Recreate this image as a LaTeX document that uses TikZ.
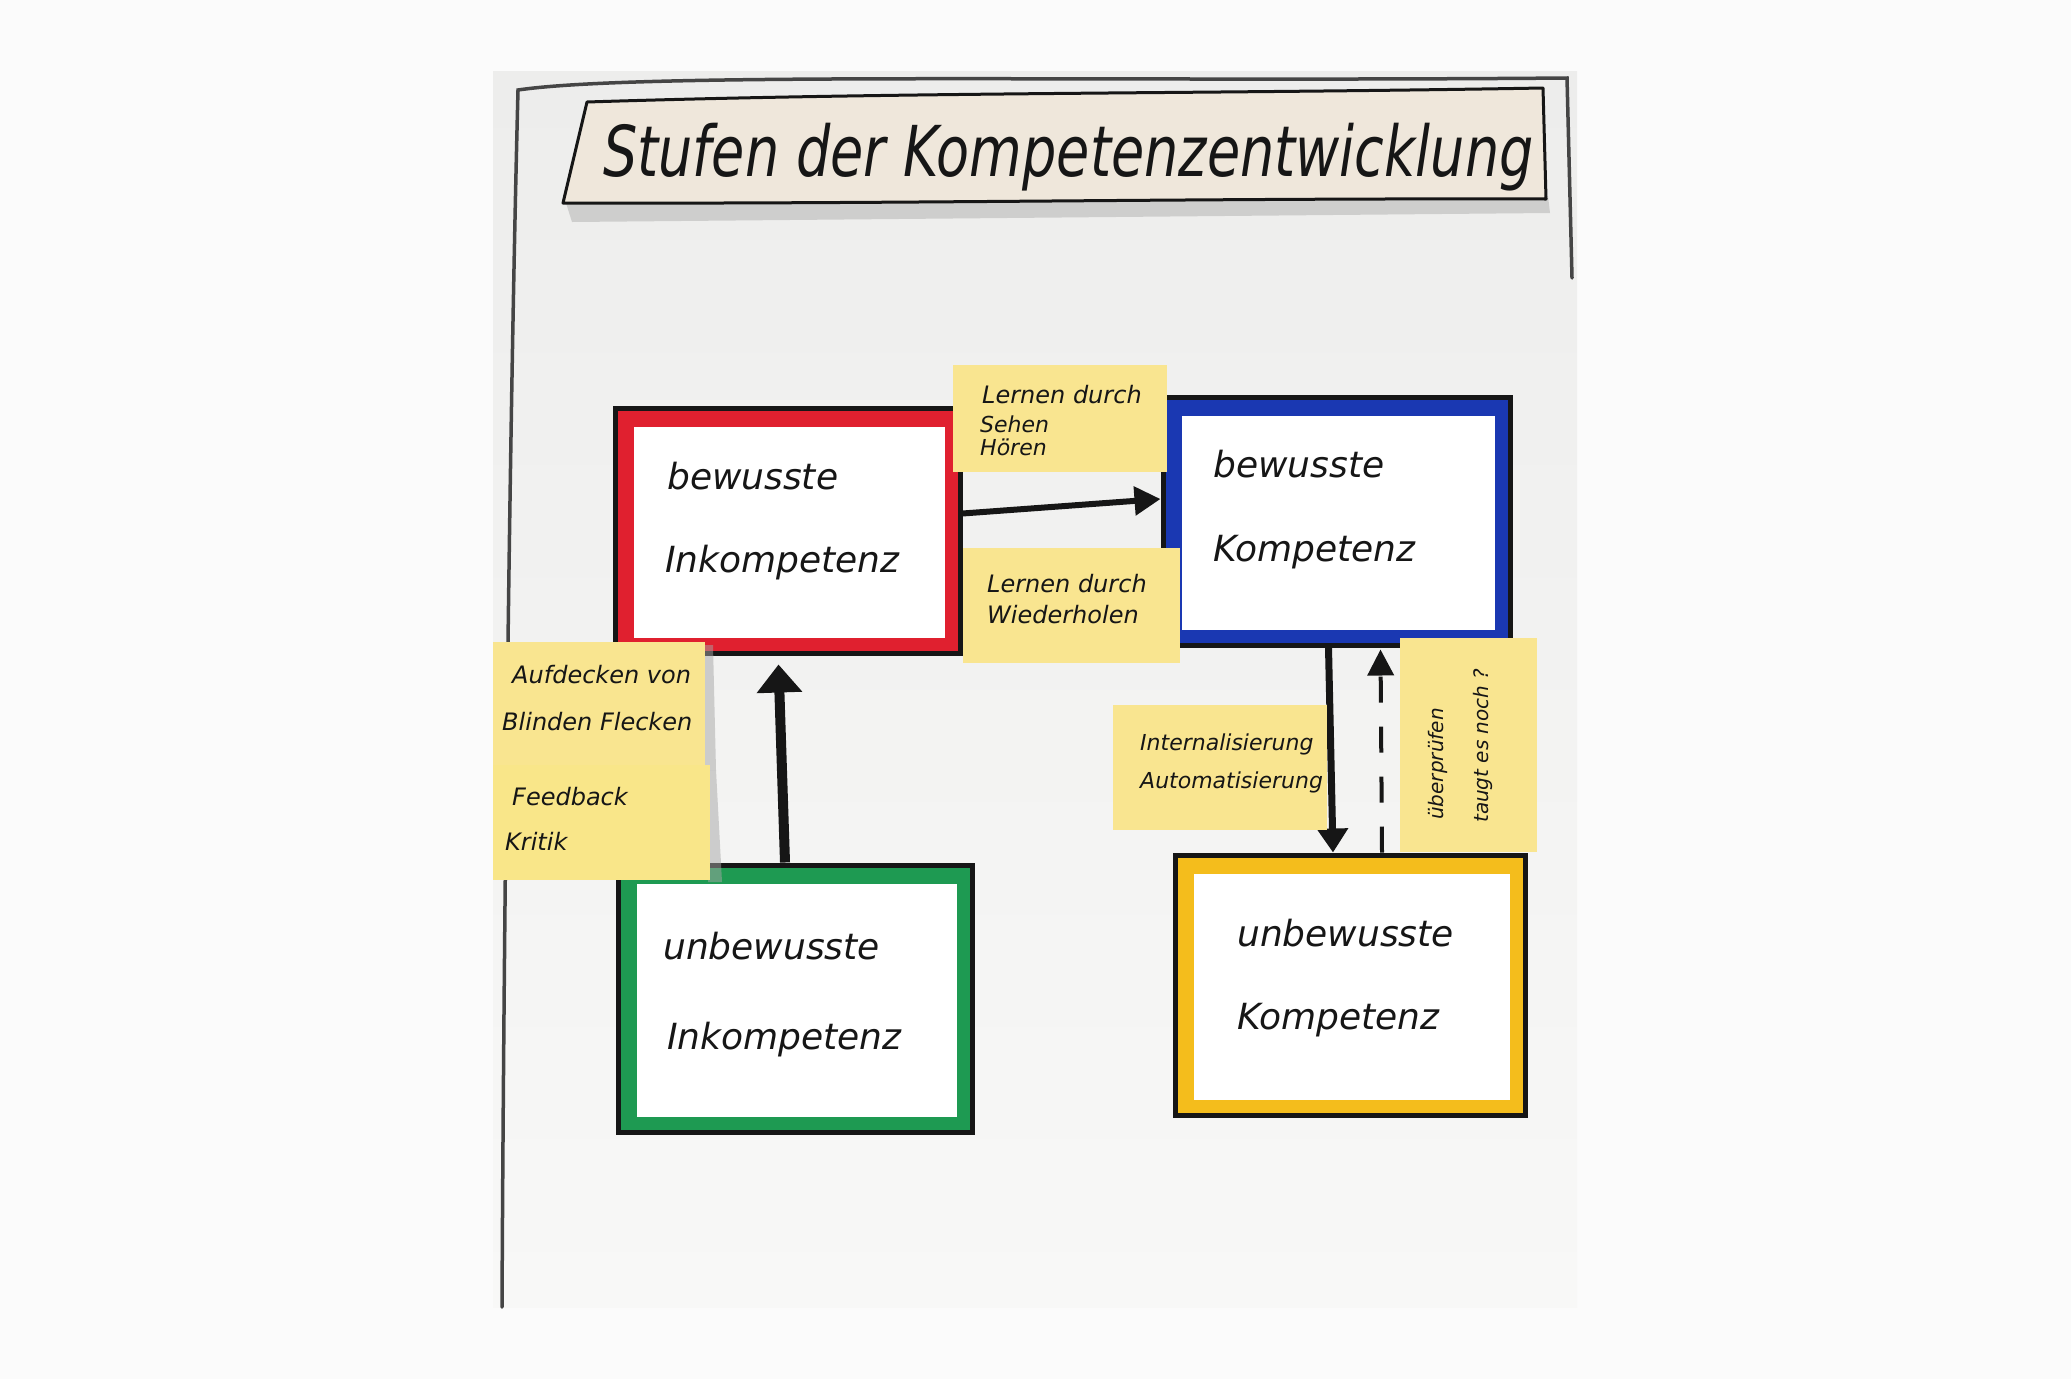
\documentclass[tikz,border=0pt]{standalone}
\usepackage{fontspec}
\setmainfont{DejaVu Sans}
\usetikzlibrary{arrows.meta}
\definecolor{bgwhite}{HTML}{FBFBFB}
\definecolor{papertop}{HTML}{EDEDEC}
\definecolor{paperbot}{HTML}{F8F8F7}
\definecolor{bannerfill}{HTML}{EFE7DB}
\definecolor{notefill}{HTML}{F9E590}
\definecolor{cred}{HTML}{E0202F}
\definecolor{cblue}{HTML}{1A38B2}
\definecolor{cgreen}{HTML}{1E9A52}
\definecolor{cyellow}{HTML}{F4BD1C}
\definecolor{ink}{HTML}{161616}
\begin{document}
\begin{tikzpicture}[x=1pt,y=-1pt,
  framebox/.style={draw=ink, line width=5pt, rectangle, inner sep=0pt, fill=#1},
  hand/.style={text=ink, anchor=base west, inner sep=0pt},
  boxtext/.style={hand, font=\itshape\fontsize{36}{40}\selectfont},
  notetext/.style={hand, font=\itshape\fontsize{24}{28}\selectfont},
  midtext/.style={hand, font=\itshape\fontsize{22}{26}\selectfont},
  smalltext/.style={hand, font=\itshape\fontsize{20}{24}\selectfont},
  sticky/.style={fill=notefill, rectangle, inner sep=0pt},
  arr/.style={draw=ink, line width=#1},
]
% page and paper
\fill[bgwhite] (0,0) rectangle (2071,1379);
\useasboundingbox (0,0) rectangle (2071,1379);
\shade[top color=papertop, bottom color=paperbot] (493,71) rectangle (1577,1307);
% hand drawn frame on paper
\draw[ink!80, line width=3.5pt, line cap=round]
  (1572,278) -- (1567,78) .. controls (1100,82) and (640,72) .. (518,90)
  .. controls (510,400) and (504,900) .. (502,1307);

% title banner
\fill[gray!55, opacity=0.6] (566,203) -- (1548,196) -- (1550,213) -- (572,222) -- cycle;
\filldraw[fill=bannerfill, draw=ink, line width=3pt, line join=round]
  (587,102) .. controls (900,92) and (1200,94) .. (1543,88)
  -- (1546,199) .. controls (1200,198) and (900,204) .. (563,203) -- cycle;
\node[hand, font=\itshape\fontsize{54}{60}\selectfont] (title) at (603,176)
  {\scalebox{1}[1.3]{Stufen der Kompetenzentwicklung}};

% four competence boxes
\node[framebox=cred, minimum width=345pt, minimum height=245pt] (red) at (787.5,530.5) {};
\node[framebox=cblue, minimum width=347pt, minimum height=248pt] (blue) at (1336.5,521) {};
\node[framebox=cgreen, minimum width=354pt, minimum height=267pt] (green) at (795,998.5) {};
\node[framebox=cyellow, minimum width=350pt, minimum height=260pt] (yellow) at (1350,985) {};
\foreach \b in {red,blue,green,yellow}{
  \fill[white] ([shift={(21pt,-21pt)}]\b.north west) rectangle ([shift={(-18pt,18pt)}]\b.south east);
}
\node[boxtext] (t1a) at (667,489) {bewusste};
\node[boxtext] (t1b) at (665,572) {Inkompetenz};
\node[boxtext] (t2a) at (1213,477) {bewusste};
\node[boxtext] (t2b) at (1213,561) {Kompetenz};
\node[boxtext] (t3a) at (663,959) {unbewusste};
\node[boxtext] (t3b) at (667,1049) {Inkompetenz};
\node[boxtext] (t4a) at (1237,946) {unbewusste};
\node[boxtext] (t4b) at (1237,1029) {Kompetenz};

% connectors
\draw[arr=6pt, -{Triangle[length=26pt,width=28pt]}]
  ([yshift=17pt]red.east) -- ([yshift=22pt]blue.west);
\draw[arr=10pt, -{Triangle[length=28pt,width=44pt]}]
  ([xshift=-10pt]green.north) -- ([xshift=-9pt,yshift=-9pt]red.south);
\draw[arr=7pt, -{Triangle[length=24pt,width=30pt]}]
  ([xshift=-8pt]blue.south) -- ([xshift=-17pt]yellow.north);
\draw[arr=4pt, dash pattern=on 26pt off 24pt, -{Triangle[length=26pt,width=26pt]}]
  ([xshift=32pt]yellow.north) -- ([xshift=44pt,yshift=-2pt]blue.south);

% sticky notes
\fill[gray!70, opacity=0.5] (703,645) -- (713,645) -- (716,770) -- (703,770) -- cycle;
\fill[gray!70, opacity=0.5] (708,770) -- (716,770) -- (722,882) -- (708,882) -- cycle;
\node[sticky, minimum width=214pt, minimum height=107pt] (n1) at (1060,418.5) {};
\node[sticky, minimum width=217pt, minimum height=115pt] (n2) at (1071.5,605.5) {};
\node[sticky, minimum width=212pt, minimum height=123pt] (n3) at (599,703.5) {};
\node[sticky, minimum width=217pt, minimum height=115pt, fill=notefill!95!yellow] (n4) at (601.5,822.5) {};
\node[sticky, minimum width=214pt, minimum height=125pt] (n5) at (1220,767.5) {};
\node[sticky, minimum width=137pt, minimum height=214pt] (n6) at (1468.5,745) {};

\node[notetext] (l1a) at (982,403) {Lernen durch};
\node[midtext] (l1b) at (980,432) {Sehen};
\node[midtext] (l1c) at (980,455) {Hören};
\node[notetext] (l2a) at (987,592) {Lernen durch};
\node[notetext] (l2b) at (987,623) {Wiederholen};
\node[notetext] (l3a) at (512,683) {Aufdecken von};
\node[notetext] (l3b) at (502,730) {Blinden Flecken};
\node[notetext] (l4a) at (512,805) {Feedback};
\node[notetext] (l4b) at (505,850) {Kritik};
\node[midtext] (l5a) at (1140,750) {Internalisierung};
\node[midtext] (l5b) at (1140,788) {Automatisierung};
\node[smalltext, rotate=90] (l6a) at (1443,820) {überprüfen};
\node[smalltext, rotate=90] (l6b) at (1488,823) {taugt es noch ?};
\end{tikzpicture}
\end{document}
